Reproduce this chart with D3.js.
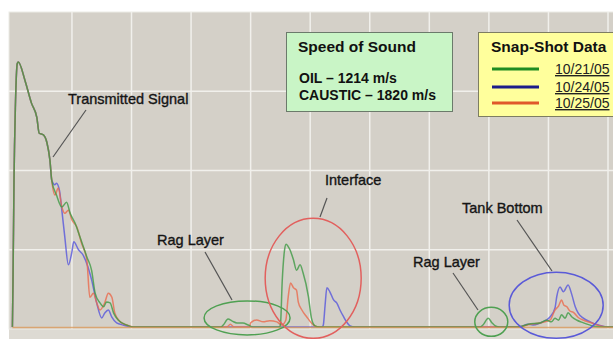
<!DOCTYPE html>
<html>
<head>
<meta charset="utf-8">
<script src="https://cdn.jsdelivr.net/npm/d3@7"></script>
<style>
  body { margin: 0; background: #fff; }
  svg { display: block; font-family: "Liberation Sans", Arial, sans-serif; }
</style>
</head>
<body>
<svg id="chart" width="613" height="339"></svg>
<script>
// sample index vs. echo amplitude
var head = [[0,2.5],[1,60],[2.7,188],[5,280],[8.2,335],[9.9,337],[21,314],[32,285],[41,267],[45,247],[52,245],[58,235],[63,213],[66,188]];

var green = head.concat([[74,169],[83,154],[91,160],[97,146],[105,134],[113.5,116],[125,91],[133,74],[139,45],[147,33],[153,28],[158,34],[164,33],[170,20],[178,11],[192,5],[203,2.5],
  [350,2.5],[354,5],[362,12.6],[369,10],[377,7.6],[387,7.6],[396,5],[404,2.5],
  [448,2.5],[450,5],[453,60],[457,100],[459.5,107],[463,104],[466,100],[472,87],[477,74],[483,81],[488,71],[497,41],[502,14],[508,4],[515,2.5],
  [785,2.5],[790,5],[799,13.5],[805,8],[811,3.8],[818,2.5],
  [850,2.5],[866,6],[886,7.6],[897,11],[905,9],[911,13.5],[917,11],[922,18],[928,13.5],[933,20.6],[939,15.5],[948,11],[958,8],[975,3.8],[990,2.5],[1010,2.5]]);

var blue = head.concat([[71.5,182],[74,184],[79,175],[83,150],[88,116],[94,81],[99.6,96],[103,110],[111,100],[119,93],[127,78],[133,62],[141.5,33],[150,14],[155,20],[161,24],[167,15],[175,7.6],[186,5],[203,2.5],
  [520,2.5],[522,5],[525,30],[528,52],[533,47],[539,37],[544.5,33],[550,24],[556,15.5],[561,9],[567,3.8],[575,2.5],
  [850,2.5],[866,6],[874,5],[886,7.6],[897,11.4],[903,15.5],[911,26.5],[914,41],[919.5,53],[925,47],[933,55.5],[939,44],[945,28],[950,20],[958,14],[970,9],[984,5],[998,2.5],[1010,2.5]]);

var red = head.concat([[71.5,169],[77,178],[83,154],[88,146],[94,150],[100,137.5],[108,129],[116,108.5],[125,87],[130,40],[136,45],[141.5,33],[147,24],[155,33],[161,45],[167,40],[172,20],[181,9],[192,5],[203,2.5],
  [360,2.5],[366,6],[372,2.5],[398,2.5],[400,7.6],[402,9],[410,11.4],[421,9],[432,10.5],[444,9],[452,5],[459,11],[463,40],[467,58],[472,52],[477,49],[480,34],[486,24],[494,15.5],[502,7.6],[508,3.8],[515,2.5],
  [850,2.5],[869,6],[886,7.6],[903,11.4],[911,24],[917,29],[922,36.6],[926,30],[931,28],[936,22.7],[942,21],[950,14.5],[958,11.4],[973,7.6],[987,3.8],[1000,2.5],[1010,2.5]]);

var dates = ["10/21/05", "10/24/05", "10/25/05"];
var speedLines = ["OIL \u2013 1214 m/s", "CAUSTIC \u2013 1820 m/s"];
var xTicks = [100,200,300,400,500,600,700,800,900,1000];
var yTicks = [100,200,300];

var svg = d3.select("#chart");
var x = d3.scaleLinear().domain([0, 1000]).range([12.4, 608]);
var y = d3.scaleLinear().domain([0, 400]).range([329, 12]);

// plot background
svg.append("rect").attr("x", 9).attr("y", 329).attr("width", 604).attr("height", 10).attr("fill", "#dddad3");
svg.append("rect").attr("x", 9).attr("y", 12).attr("width", 610).attr("height", 317)
    .attr("fill", "#d4d0c8").attr("stroke", "#ecebe6").attr("stroke-width", 1);

svg.append("defs").append("clipPath").attr("id", "plotclip")
  .append("rect").attr("x", 9).attr("y", 12).attr("width", 604).attr("height", 318);

// grid
svg.append("g").selectAll("line").data(xTicks).enter().append("line")
    .attr("x1", function(d){ return x(d); }).attr("x2", function(d){ return x(d); })
    .attr("y1", y(400)).attr("y2", y(0))
    .attr("stroke", "#f1f0ec").attr("stroke-width", 1.5);
svg.append("g").selectAll("line").data(yTicks).enter().append("line")
    .attr("x1", 9).attr("x2", 613)
    .attr("y1", function(d){ return y(d); }).attr("y2", function(d){ return y(d); })
    .attr("stroke", "#f1f0ec").attr("stroke-width", 1.5);

var line = d3.line()
    .x(function(d){ return x(d[0]); })
    .y(function(d){ return y(d[1]); })
    .curve(d3.curveMonotoneX);

var series = [
  {data: blue, color: "#5656dc"},
  {data: red, color: "#ea6a4e"},
  {data: green, color: "#3f9a45"}
];
var pg = svg.append("g").attr("clip-path", "url(#plotclip)");
pg.selectAll("path").data(series).enter().append("path")
    .attr("d", function(d){ return line(d.data); })
    .attr("fill", "none")
    .attr("stroke", function(d){ return d.color; })
    .attr("stroke-width", 1.5)
    .attr("stroke-opacity", 0.8);
// orange-tan floor trace along the baseline
pg.append("line").attr("x1", x(0)).attr("x2", 613).attr("y1", y(2.5) + 0.5).attr("y2", y(2.5) + 0.5)
    .attr("stroke", "#d99a5c").attr("stroke-width", 1.5).attr("stroke-opacity", 0.8);

// annotations: ellipses around features (centres in data units, radii in px)
var rings = [
  {t: 394, v: 14, rx: 43, ry: 17, color: "#4fa052"},
  {t: 505, v: 64, rx: 48, ry: 60, color: "#e2605e"},
  {t: 913, v: 30, rx: 47, ry: 33, color: "#5a5ad8"},
  {t: 804, v: 9, rx: 16.5, ry: 14.5, color: "#4fa052"}
];
svg.append("g").selectAll("ellipse").data(rings).enter().append("ellipse")
    .attr("cx", function(d){ return x(d.t); })
    .attr("cy", function(d){ return y(d.v); })
    .attr("rx", function(d){ return d.rx; })
    .attr("ry", function(d){ return d.ry; })
    .attr("fill", "none")
    .attr("stroke", function(d){ return d.color; })
    .attr("stroke-width", 1.5);

var notes = [
  {text: "Transmitted Signal", x: 68, y: 104, lx1: 86, ly1: 110, lx2: 53, ly2: 157},
  {text: "Rag Layer", x: 157, y: 245, lx1: 205, ly1: 252, lx2: 232, ly2: 300},
  {text: "Interface", x: 325, y: 185, lx1: 327, ly1: 198, lx2: 320, ly2: 217},
  {text: "Tank Bottom", x: 462, y: 213, lx1: 517, ly1: 220, lx2: 552, ly2: 271},
  {text: "Rag Layer", x: 413, y: 267, lx1: 453, ly1: 273, lx2: 478, ly2: 310}
];
var ng = svg.append("g");
ng.selectAll("line").data(notes).enter().append("line")
    .attr("x1", function(d){ return d.lx1; }).attr("y1", function(d){ return d.ly1; })
    .attr("x2", function(d){ return d.lx2; }).attr("y2", function(d){ return d.ly2; })
    .attr("stroke", "#555").attr("stroke-width", 1.2);
ng.selectAll("text").data(notes).enter().append("text")
    .attr("x", function(d){ return d.x; }).attr("y", function(d){ return d.y; })
    .attr("font-size", 14.5).attr("fill", "#151515")
    .attr("stroke", "#151515").attr("stroke-width", 0.35)
    .text(function(d){ return d.text; });

// speed of sound box
var sb = svg.append("g");
sb.append("rect").attr("x", 286.5).attr("y", 32.5).attr("width", 166).attr("height", 79)
    .attr("fill", "#c9f5c6").attr("stroke", "#6b7a6b").attr("stroke-width", 1);
sb.append("text").attr("x", 298).attr("y", 52).attr("font-size", 15.5).attr("font-weight", "bold")
    .attr("fill", "#111").text("Speed of Sound");
sb.selectAll("text.v").data(speedLines).enter().append("text").attr("class", "v")
    .attr("x", 299).attr("y", function(d, i){ return 83 + i * 17; })
    .attr("font-size", 14).attr("font-weight", "bold").attr("fill", "#111")
    .text(function(d){ return d; });

// legend
var lg = svg.append("g");
lg.append("rect").attr("x", 478.5).attr("y", 32.5).attr("width", 150).attr("height", 84)
    .attr("fill", "#ffff9c").attr("stroke", "#7d7d62").attr("stroke-width", 1);
lg.append("text").attr("x", 491).attr("y", 52).attr("font-size", 15.5).attr("font-weight", "bold")
    .attr("fill", "#111").text("Snap-Shot Data");
var legendColors = ["#1f8c22", "#1c1c8a", "#e0582a"];
var items = lg.selectAll("g.item").data(dates).enter().append("g").attr("class", "item")
    .attr("transform", function(d, i){ return "translate(0," + [69, 87, 103][i] + ")"; });
items.append("line").attr("x1", 492).attr("x2", 539).attr("y1", 0).attr("y2", 0)
    .attr("stroke", function(d, i){ return legendColors[i]; }).attr("stroke-width", 3);
items.append("text").attr("x", 555).attr("y", 5).attr("font-size", 14).attr("fill", "#222")
    .attr("text-decoration", "underline")
    .text(function(d){ return d; });
</script>
</body>
</html>
